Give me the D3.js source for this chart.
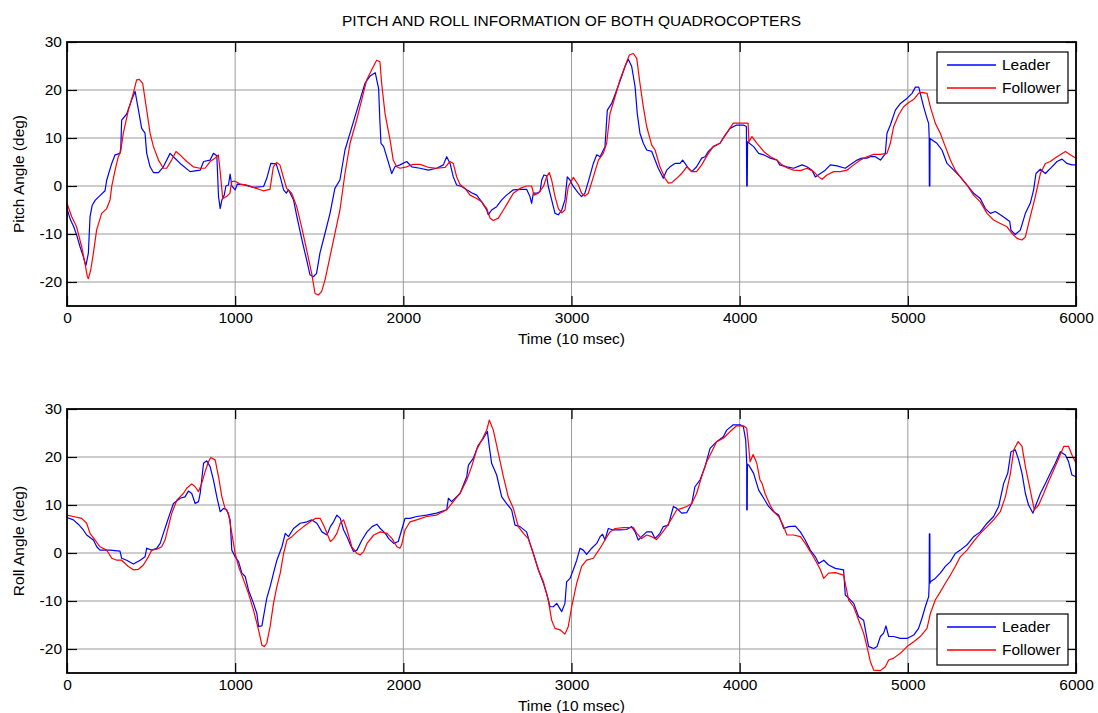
<!DOCTYPE html>
<html>
<head>
<meta charset="utf-8">
<script src="https://cdn.jsdelivr.net/npm/d3@7"></script>
<style>
  body { margin: 0; background: #fff; }
  svg { font-family: "Liberation Sans", Arial, sans-serif; }
</style>
</head>
<body>
<svg id="chart" width="1098" height="713"></svg>
<script>
// tick labels
const xTicks = [0, 1000, 2000, 3000, 4000, 5000, 6000];
const yTicks = [-20, -10, 0, 10, 20, 30];
const seriesNames = ['Leader', 'Follower'];

// [time (10 msec), angle (deg)]
const pitchLeader = [[0,-4.7],[20,-7],[40,-8.5],[60,-10.5],[77,-12.6],[95,-14.5],[107,-16],[113,-16.5],[127,-14],[137,-6.4],[150,-4],[167,-3],[196,-2],[226,-1],[236,1.2],[266,4.7],[286,6.5],[315,6.8],[320,8],[325,13.7],[355,15],[385,18],[405,19.7],[425,15.8],[444,12],[464,11],[474,6.8],[494,4],[514,2.8],[544,2.8],[573,4],[613,6.8],[633,6.1],[673,4.7],[732,3],[792,3.3],[812,5.1],[851,5.4],[871,6.8],[891,6.3],[901,-2.2],[911,-4.7],[921,-2.9],[935,-1.9],[945,0],[960,0.2],[970,2.5],[980,0],[1000,-0.8],[1013,0.4],[1050,0.3],[1109,-0.3],[1169,-0.1],[1188,1.6],[1212,4.7],[1244,4.6],[1268,1.9],[1288,-0.8],[1304,-1.5],[1317,-0.8],[1347,-2.9],[1367,-6.4],[1397,-11.2],[1425,-15.4],[1445,-18.5],[1465,-18.9],[1484,-18.2],[1504,-14],[1534,-9.9],[1564,-5.7],[1593,-0.5],[1623,1.25],[1653,7.5],[1683,11],[1712,14.4],[1742,17.9],[1772,21.4],[1802,22.9],[1833,23.6],[1853,20.3],[1860,14],[1867,8.9],[1883,8.2],[1913,4.7],[1931,2.6],[1950,4],[1980,4.4],[2020,5.1],[2050,4],[2099,3.7],[2149,3.3],[2198,3.7],[2238,4.4],[2258,6.1],[2278,4.7],[2297,1.9],[2317,0.2],[2347,-0.1],[2377,-0.8],[2406,-1.4],[2436,-1.9],[2466,-3.3],[2496,-5],[2505,-6],[2525,-5],[2555,-4.3],[2585,-2.9],[2614,-1.9],[2654,-0.8],[2694,-0.7],[2733,-0.7],[2753,-2.2],[2763,-3.6],[2773,-1.5],[2793,-1.5],[2813,-1.2],[2823,1.25],[2836,2.3],[2852,2.1],[2862,-0.1],[2882,-2.9],[2902,-5.7],[2922,-6],[2942,-5],[2961,-2.9],[2975,1.9],[2991,1.25],[3011,-0.1],[3041,-1.5],[3060,-2.2],[3080,-1.5],[3100,0.9],[3130,4.7],[3150,6.5],[3170,6.1],[3199,8.2],[3213,15.8],[3239,17.2],[3269,20],[3298,22.8],[3318,24.9],[3338,26.4],[3358,24.9],[3378,20.7],[3391,15.1],[3407,11],[3427,8.9],[3447,7.5],[3477,7.2],[3497,5.4],[3516,3.7],[3546,1.6],[3566,3.3],[3586,4],[3615,4.7],[3645,4.7],[3661,5.4],[3675,4.7],[3695,3.7],[3715,3],[3744,4],[3774,5.8],[3794,6.1],[3814,7.2],[3843,8.2],[3883,8.9],[3913,10.6],[3943,12],[3982,12.7],[4022,12.7],[4040,12.4],[4042,0],[4045,0],[4047,9.2],[4083,8.2],[4113,6.8],[4143,6.5],[4182,5.8],[4222,5.4],[4238,4.4],[4281,4],[4321,3.7],[4371,4.4],[4400,4],[4430,3.3],[4450,1.9],[4480,2.6],[4509,3.3],[4539,4.4],[4579,4.2],[4628,3.7],[4668,4.7],[4698,5.4],[4727,5.8],[4757,5.8],[4777,6.1],[4807,6.1],[4837,5.4],[4866,6.7],[4876,11],[4896,12.7],[4926,15.8],[4956,17.2],[4996,18.3],[5025,19.3],[5045,20.6],[5065,20.6],[5074,19.3],[5094,16.5],[5114,14.1],[5124,13],[5127,10],[5128,0],[5131,0],[5132,9.9],[5173,8.9],[5203,7.5],[5233,4.7],[5273,3.3],[5312,1.9],[5352,0.2],[5391,-1.5],[5431,-2.6],[5461,-4.7],[5491,-5.7],[5520,-5.3],[5550,-6],[5580,-6.7],[5606,-7.4],[5613,-9.2],[5639,-10.1],[5669,-9.2],[5699,-5.7],[5728,-3.6],[5748,-0.8],[5762,2.6],[5788,3.5],[5818,2.6],[5857,4],[5887,5.1],[5917,5.6],[5946,4.7],[5976,4.4],[6000,4.4]];

const pitchFollower = [[0,-3.6],[28,-6.4],[57,-8.5],[87,-12.6],[107,-16.1],[121,-18.9],[127,-19.3],[141,-17.5],[157,-14],[176,-9.2],[206,-5.7],[236,-4.7],[256,-2.9],[266,-0.1],[286,3.3],[305,6.1],[319,7.2],[335,11],[365,15.8],[394,19.3],[414,22.1],[430,22.2],[450,21.4],[474,15.8],[494,11],[514,8.2],[544,5.4],[573,3.7],[593,3.7],[622,5.4],[648,7.2],[672,6.5],[712,5.1],[751,4],[791,3.7],[821,3.7],[851,5.1],[880,5.8],[900,6.5],[910,3.3],[926,-2.6],[949,-2.2],[969,-1.5],[979,0.9],[999,1],[1029,0.4],[1068,0.2],[1108,-0.3],[1167,-1],[1207,-0.7],[1227,4],[1247,4.9],[1266,4.4],[1286,1.9],[1306,-0.5],[1336,-1.5],[1366,-4.3],[1395,-8.5],[1425,-13.3],[1455,-18.2],[1475,-22.4],[1494,-22.7],[1514,-22],[1534,-19.6],[1564,-14.7],[1593,-9.9],[1623,-5],[1653,2.6],[1683,8.9],[1722,13.7],[1752,17.9],[1782,22.1],[1812,24.2],[1841,26.2],[1861,25.9],[1871,21.4],[1891,15.1],[1921,9.6],[1940,5.4],[1960,4],[1980,3.7],[2020,4],[2059,4.5],[2099,4.5],[2149,3.9],[2198,3.7],[2248,3.9],[2278,5.1],[2297,4.7],[2317,1.9],[2337,0.3],[2367,-0.5],[2397,-1.9],[2436,-2.6],[2466,-3.3],[2496,-4.7],[2516,-6.7],[2535,-7.2],[2565,-6.7],[2595,-5],[2624,-3.3],[2654,-1.5],[2694,-0.5],[2733,0],[2763,0],[2777,-1.9],[2803,-1.5],[2833,-0.1],[2852,1.9],[2868,2.8],[2882,1.25],[2902,-2.2],[2922,-4.7],[2942,-5.6],[2961,-5],[2981,-0.1],[3011,1.8],[3041,0.2],[3060,-1.5],[3080,-2.1],[3100,-1.5],[3130,1.9],[3160,5.4],[3189,6.8],[3209,8.9],[3229,15.1],[3259,18.6],[3288,22.1],[3318,24.9],[3344,27.3],[3368,27.6],[3388,26.6],[3407,21.4],[3427,16.5],[3447,12.4],[3477,8.5],[3497,7.5],[3526,4],[3556,1.6],[3576,0.6],[3596,0.7],[3626,1.6],[3655,2.6],[3685,4],[3715,3],[3744,3],[3774,4.4],[3814,6.8],[3843,8.2],[3883,8.9],[3923,11],[3962,13.1],[4002,13.1],[4050,13.1],[4055,9.2],[4073,10.3],[4103,8.9],[4143,7.2],[4182,6.1],[4222,5.4],[4252,4.4],[4281,3.8],[4321,3.3],[4361,3.2],[4400,3.7],[4440,3],[4470,1.9],[4490,1.4],[4519,2.3],[4559,3],[4599,3],[4638,3.3],[4678,4.4],[4718,5.4],[4757,6.1],[4797,6.6],[4837,6.6],[4876,6.8],[4896,8.9],[4916,12.4],[4945,14.8],[4975,16.5],[5005,17.4],[5034,18],[5064,19.3],[5084,19.5],[5114,19.3],[5134,16.5],[5163,13.1],[5193,11],[5223,8.2],[5253,5.4],[5282,3.3],[5312,1.9],[5352,0.2],[5391,-1.9],[5431,-3.3],[5471,-5.7],[5510,-7.1],[5550,-7.8],[5590,-8.5],[5620,-9.9],[5649,-10.9],[5679,-11.25],[5699,-10.6],[5728,-6.4],[5758,-2.2],[5788,2.6],[5818,4.7],[5847,5.1],[5887,6.1],[5937,7.2],[5966,6.5],[6000,5.8]];

const rollLeader = [[0,7.4],[38,6.9],[67,6],[97,4.8],[117,3.75],[157,2.7],[177,1.3],[196,0.6],[256,0.6],[315,0.4],[325,-1.1],[355,-1.5],[395,-2.3],[435,-1.5],[464,-0.8],[474,1],[504,0.6],[534,1],[554,2],[573,4.1],[593,6.2],[613,8.3],[633,10.3],[673,11.4],[702,11.7],[722,12.9],[742,12.4],[762,10.3],[782,10.7],[792,12.4],[812,18.7],[831,19.2],[851,18],[871,15.2],[891,11.7],[911,8.6],[931,9.3],[950,9],[970,6.9],[980,0.6],[1000,-0.8],[1020,-1.8],[1040,-4.2],[1060,-4.9],[1079,-7.7],[1109,-10.5],[1129,-12.6],[1139,-15.3],[1159,-15.2],[1179,-11.2],[1188,-9.4],[1208,-7],[1228,-4.2],[1248,-1.5],[1278,1.3],[1298,4.1],[1317,3.4],[1347,5.1],[1387,6.2],[1427,6.5],[1456,6.9],[1486,6.2],[1516,4.4],[1546,3.75],[1566,5.5],[1585,6.5],[1605,7.9],[1625,7.2],[1645,4.8],[1665,3.4],[1685,1.7],[1704,0.3],[1724,0.6],[1754,2.7],[1784,4.4],[1814,5.5],[1843,6],[1863,5.1],[1893,4.1],[1913,3],[1943,2],[1970,2.4],[1990,4.8],[2010,7.2],[2040,7.2],[2079,7.6],[2139,7.9],[2198,8.3],[2258,9],[2268,11.4],[2287,10.7],[2337,12.4],[2377,15.9],[2387,18.3],[2416,19.7],[2446,22.5],[2476,23.9],[2500,25.3],[2511,22.2],[2525,18.7],[2555,16.25],[2585,11.7],[2614,10.3],[2644,9],[2664,5.8],[2694,5.5],[2733,4.4],[2753,2],[2773,-0.1],[2803,-3.5],[2833,-6.3],[2852,-8.4],[2872,-11.2],[2892,-11.2],[2912,-10.5],[2942,-12.2],[2961,-10.5],[2971,-6],[2991,-5.3],[3011,-3.5],[3031,-1.5],[3051,1],[3070,0.6],[3090,-0.3],[3120,1],[3150,2],[3170,3.4],[3185,3.9],[3199,2.7],[3219,5.1],[3249,4.8],[3288,4.8],[3328,4.9],[3358,5.5],[3378,4.4],[3397,2.7],[3417,3.4],[3447,4.4],[3477,4.4],[3497,3],[3526,4.1],[3546,5.5],[3576,5.8],[3606,9.7],[3626,9.3],[3655,8.3],[3685,8.4],[3715,10.3],[3734,13.8],[3764,15.2],[3794,18],[3824,21.8],[3863,23.2],[3903,24.2],[3923,25.6],[3962,26.7],[4004,26.7],[4022,26.3],[4036,23.5],[4042,18.7],[4042,9],[4045,9],[4046,18.5],[4054,18.3],[4083,16.6],[4113,13.1],[4143,11.4],[4172,9.7],[4202,8.6],[4232,7.9],[4262,5.1],[4291,5.5],[4331,5.6],[4361,4.4],[4390,2.7],[4420,0.6],[4450,-0.8],[4470,-2.2],[4500,-1.5],[4529,-2.5],[4569,-3.2],[4618,-3.5],[4628,-8.75],[4648,-9.4],[4678,-10.5],[4708,-13.3],[4737,-14],[4757,-17.8],[4767,-19.5],[4797,-19.9],[4817,-19.5],[4837,-17.4],[4856,-16.7],[4870,-15.2],[4886,-17.4],[4916,-17.4],[4955,-17.8],[4995,-17.8],[5035,-17.1],[5064,-15.7],[5084,-13.6],[5104,-11.2],[5124,-9.1],[5127,-6.3],[5128,4],[5131,4],[5132,-6.3],[5134,-6],[5163,-5.3],[5193,-4.2],[5223,-2.8],[5253,-1.8],[5282,-0.1],[5312,0.6],[5352,1.7],[5391,3.4],[5431,4.4],[5471,6.2],[5510,7.6],[5540,9.7],[5570,14.5],[5594,16.6],[5613,21.1],[5639,21.5],[5659,19.4],[5679,16.6],[5699,12.4],[5718,10],[5744,8.3],[5758,9.7],[5788,12.4],[5818,14.5],[5847,16.6],[5877,18.7],[5907,21.1],[5937,20.4],[5956,19],[5976,16.25],[6000,15.9]];

const rollFollower = [[0,7.9],[38,7.6],[87,7.2],[117,6.2],[137,4.1],[167,2.7],[196,1.3],[236,0.6],[266,-1.1],[296,-1.5],[325,-1.5],[365,-2.8],[395,-3.5],[425,-3.4],[454,-2.5],[484,-0.8],[504,0.6],[534,0.8],[563,1.3],[583,2.7],[603,5.5],[623,8.3],[653,11],[692,12.4],[712,13.5],[742,14.4],[762,13.8],[782,12.8],[801,14.5],[821,16.9],[841,19],[855,19.9],[881,19.4],[901,15.9],[921,11.7],[940,9.3],[960,8.3],[980,4.1],[1000,-0.1],[1020,-2.8],[1050,-5.6],[1079,-8.4],[1109,-11.9],[1139,-16],[1159,-19.2],[1173,-19.5],[1188,-18.8],[1208,-15.3],[1228,-10.5],[1248,-7],[1268,-4.2],[1288,-0.1],[1308,2.7],[1337,3.4],[1367,4.4],[1407,5.5],[1446,6.5],[1476,7.2],[1506,7.2],[1526,5.8],[1546,4.1],[1566,2.4],[1585,3],[1605,4.1],[1625,6.2],[1645,6.9],[1665,4.8],[1694,1.3],[1724,-0.1],[1744,-0.4],[1764,0.3],[1784,2],[1824,3.75],[1863,4.4],[1903,4.1],[1933,3],[1962,1.3],[1980,1],[1990,1.7],[2010,4.8],[2040,6.5],[2079,6.9],[2139,7.6],[2198,7.9],[2258,9],[2297,10.7],[2337,12.4],[2377,15.2],[2406,18],[2436,21.5],[2466,23.5],[2496,25.6],[2511,27.7],[2535,25.6],[2565,20.8],[2595,15.9],[2624,11.7],[2654,9.3],[2684,5.5],[2714,4.1],[2743,3],[2773,-0.1],[2803,-3.5],[2833,-6],[2862,-9.8],[2882,-14],[2902,-15.7],[2932,-16],[2961,-16.9],[2981,-15.3],[3001,-11.2],[3031,-6.3],[3060,-2.8],[3090,-1.5],[3130,-1.1],[3170,1],[3199,2.7],[3229,4.4],[3259,5.1],[3308,5.3],[3368,5.3],[3388,4.1],[3417,3],[3447,3.75],[3477,3.4],[3506,2.8],[3536,4.1],[3566,5.5],[3596,7.2],[3626,9],[3655,9.3],[3685,9.7],[3715,10.3],[3744,12.4],[3774,15.9],[3804,19],[3834,21.1],[3863,23.2],[3903,23.9],[3943,25.3],[3982,26.5],[4022,26.5],[4042,26],[4052,22.8],[4062,19],[4080,20.5],[4102,18.7],[4121,15.2],[4133,14.5],[4151,12.4],[4163,11.4],[4181,10],[4192,9.3],[4210,8.3],[4232,7.6],[4262,5.5],[4281,3.75],[4321,3.75],[4361,3.4],[4390,2],[4420,0.3],[4450,-1.5],[4480,-3.5],[4500,-5.3],[4529,-4.2],[4569,-4.1],[4618,-4.6],[4648,-9.8],[4678,-11.2],[4708,-14],[4737,-16.7],[4757,-19.5],[4777,-22.6],[4797,-24.4],[4837,-24.5],[4866,-23.7],[4886,-22.3],[4916,-21.9],[4955,-20.9],[4995,-19.5],[5035,-18.5],[5074,-17.4],[5114,-15.7],[5134,-12.6],[5163,-9.8],[5193,-8.1],[5223,-6.3],[5253,-4.6],[5282,-2.8],[5312,-0.8],[5352,0.6],[5391,2.4],[5431,4.1],[5471,5.5],[5510,6.9],[5550,8.6],[5580,11.7],[5610,16.6],[5630,21.5],[5656,23.2],[5679,22.2],[5699,18],[5728,13.1],[5752,9],[5778,10],[5808,12.4],[5837,14.9],[5867,17.3],[5897,19.7],[5927,22.2],[5956,22.2],[5976,20.4],[6000,18.7]];

const svg = d3.select('#chart');
const left = 67, plotW = 1009, plotH = 264;
const colors = ['#0000ff', '#ff0000'];
const fontSize = '15.5px';
const plain = d => String(d); // matlab prints "-20" and "1000", no separators

svg.append('rect').attr('width', 1098).attr('height', 713).attr('fill', '#fff');

svg.append('text')
  .attr('x', left + plotW / 2).attr('y', 26)
  .attr('text-anchor', 'middle')
  .style('font-size', fontSize)
  .text('PITCH AND ROLL INFORMATION OF BOTH QUADROCOPTERS');

function drawPanel(top, yLabel, leader, follower, legendY) {
  let x = d3.scaleLinear().domain([0, 6000]).range([left, left + plotW]);
  let y = d3.scaleLinear().domain([-25, 30]).range([top + plotH, top]);
  let g = svg.append('g');

  // grid
  g.append('g').selectAll('line').data(xTicks.slice(1, -1)).join('line')
    .attr('x1', d => x(d)).attr('x2', d => x(d))
    .attr('y1', top).attr('y2', top + plotH)
    .attr('stroke', '#9a9a9a').attr('stroke-width', 1);
  g.append('g').selectAll('line').data(yTicks.slice(0, -1)).join('line')
    .attr('x1', left).attr('x2', left + plotW)
    .attr('y1', d => y(d)).attr('y2', d => y(d))
    .attr('stroke', '#9a9a9a').attr('stroke-width', 1);

  // data lines
  let line = d3.line().x(d => x(d[0])).y(d => y(d[1]));
  [leader, follower].forEach((s, i) => {
    g.append('path').datum(s)
      .attr('d', line)
      .attr('fill', 'none')
      .attr('stroke', colors[i])
      .attr('stroke-width', 1.2)
      .attr('stroke-linejoin', 'round');
  });

  // axes with ticks pointing inwards (matlab style)
  let xAxis = d3.axisBottom(x).tickValues(xTicks).tickFormat(plain).tickSizeInner(-10).tickSizeOuter(0).tickPadding(6);
  let yAxis = d3.axisLeft(y).tickValues(yTicks).tickFormat(plain).tickSizeInner(-10).tickSizeOuter(0).tickPadding(5);
  g.append('g').attr('transform', `translate(0,${top + plotH})`).call(xAxis);
  g.append('g').attr('transform', `translate(${left},0)`).call(yAxis);
  // top and right ticks
  g.append('g').attr('transform', `translate(0,${top})`)
    .call(d3.axisTop(x).tickValues(xTicks).tickSizeInner(-10).tickSizeOuter(0).tickFormat(''));
  g.append('g').attr('transform', `translate(${left + plotW},0)`)
    .call(d3.axisRight(y).tickValues(yTicks).tickSizeInner(-10).tickSizeOuter(0).tickFormat(''));
  g.selectAll('.domain').remove();
  g.selectAll('.tick line').attr('stroke', '#000').attr('stroke-width', 1.2);
  g.selectAll('.tick text').style('font-size', fontSize).attr('fill', '#000')
    .style('font-family', '"Liberation Sans", Arial, sans-serif');

  // box
  g.append('rect')
    .attr('x', left).attr('y', top).attr('width', plotW).attr('height', plotH)
    .attr('fill', 'none').attr('stroke', '#000').attr('stroke-width', 1.8);

  // axis labels
  g.append('text')
    .attr('x', left + plotW / 2).attr('y', top + plotH + 38)
    .attr('text-anchor', 'middle').style('font-size', fontSize)
    .text('Time (10 msec)');
  g.append('text')
    .attr('transform', `translate(24,${top + plotH / 2}) rotate(-90)`)
    .attr('text-anchor', 'middle').style('font-size', fontSize)
    .text(yLabel);

  // legend
  let lg = g.append('g').attr('transform', `translate(937,${legendY})`);
  lg.append('rect').attr('width', 131).attr('height', 51)
    .attr('fill', '#fff').attr('stroke', '#000').attr('stroke-width', 1.2);
  seriesNames.forEach((name, i) => {
    let ly = 13 + i * 23;
    lg.append('line').attr('x1', 10).attr('x2', 59).attr('y1', ly).attr('y2', ly)
      .attr('stroke', colors[i]).attr('stroke-width', 1.4);
    lg.append('text').attr('x', 65).attr('y', ly).attr('dy', '0.35em')
      .style('font-size', fontSize).text(name);
  });
}

drawPanel(42, 'Pitch Angle (deg)', pitchLeader, pitchFollower, 52);
drawPanel(409, 'Roll Angle (deg)', rollLeader, rollFollower, 614);
</script>
</body>
</html>
